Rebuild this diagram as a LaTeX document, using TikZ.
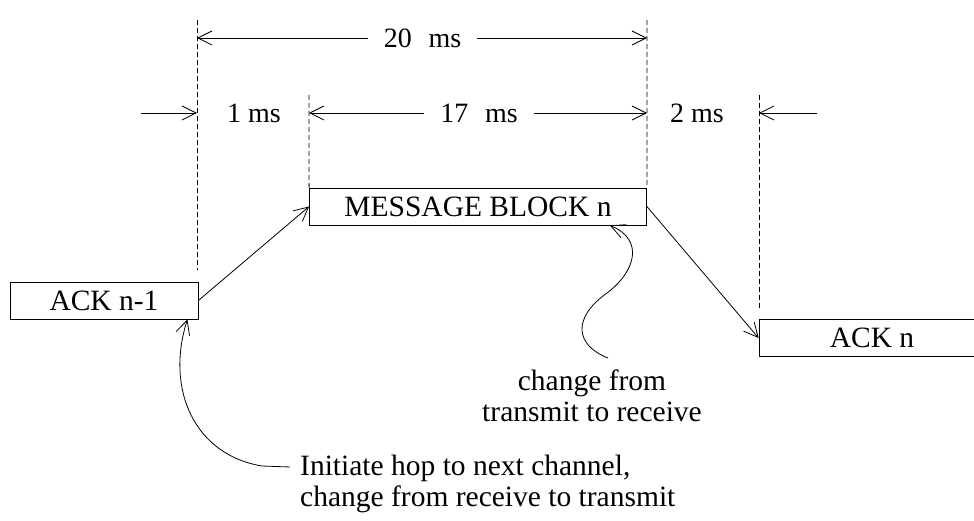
\documentclass[tikz,border=0pt]{standalone}
\usepackage{fontspec}
\setmainfont{Liberation Serif}
\usetikzlibrary{arrows.meta,calc}
\tikzset{
  lbl/.style={font=\fontsize{28}{30}\selectfont, inner sep=0pt},
  txt/.style={font=\fontsize{29.5}{31}\selectfont, inner sep=0pt},
  box/.style={draw, line width=0.8pt, minimum height=37pt, inner sep=0pt, font=\fontsize{29.5}{31}\selectfont},
  arr/.style={-{Straight Barb[length=14pt,width=14pt]}, line width=0.8pt},
  guide/.style={dash pattern=on 5pt off 3pt, line width=0.8pt},
}
\begin{document}
\begin{tikzpicture}[x=1pt,y=-1pt]
\useasboundingbox (0,0) rectangle (974,521);
\clip (0,0) rectangle (974,521);
% boxes
\node[box, minimum width=337pt] (msg) at (478,206.5) {MESSAGE BLOCK n};
\node[box, minimum width=188pt] (ack1) at (104,300.5) {ACK n-1};
\node[box, minimum width=226pt] (ackn) at (872,338) {ACK n};
% guides
\coordinate (g1t) at (197,20);
\coordinate (g1b) at (197,270);
\coordinate (g2t) at (309,95);
\coordinate (g3t) at (647,20);
\coordinate (g4t) at (759,95);
\coordinate (g4b) at (759,310);
\draw[guide] (g1t) -- (g1b);
\draw[guide] (g2t) -- (msg.north west);
\draw[guide] (g3t) -- (msg.north east);
\draw[guide] (g4t) -- (g4b);
% dimension row 1
\node[lbl, inner xsep=16pt] (l20) at (422.5,38) {20\hspace{0.6em}ms};
\draw[arr] (l20.west) -- (l20.west -| g1t);
\draw[arr] (l20.east) -- (l20.east -| g3t);
% dimension row 2
\node[lbl] (l1) at (254,113) {1 ms};
\coordinate (a1) at (141,113);
\draw[arr] (a1) -- (a1 -| g1t);
\node[lbl, inner xsep=16pt] (l17) at (479,113) {17\hspace{0.6em}ms};
\draw[arr] (l17.west) -- (l17.west -| g2t);
\draw[arr] (l17.east) -- (l17.east -| g3t);
\node[lbl] (l2) at (697,113) {2 ms};
\coordinate (a4) at (817,113);
\draw[arr] (a4) -- (a4 -| g4t);
% connectors
\draw[arr] (ack1.east) -- (msg.west);
\draw[arr] (msg.east) -- (ackn.west);
% annotations
\node[txt, align=center, anchor=north] (chg) at (592,370) {change from\\transmit to receive};
\node[txt, align=left, anchor=north west] (init) at (300,455) {Initiate hop to next channel,\\change from receive to transmit};
\coordinate (s2) at (608,358);
\draw[arr] (s2) .. controls (575,345) and (572,318) .. (607,293) .. controls (635,272) and (645,240) .. ([xshift=-37pt]msg.south east);
\coordinate (s1) at (290,467);
\draw[arr] (s1) -- (262,466) .. controls (195,455) and (165,390) .. ([xshift=-11pt]ack1.south east);
\end{tikzpicture}
\end{document}
